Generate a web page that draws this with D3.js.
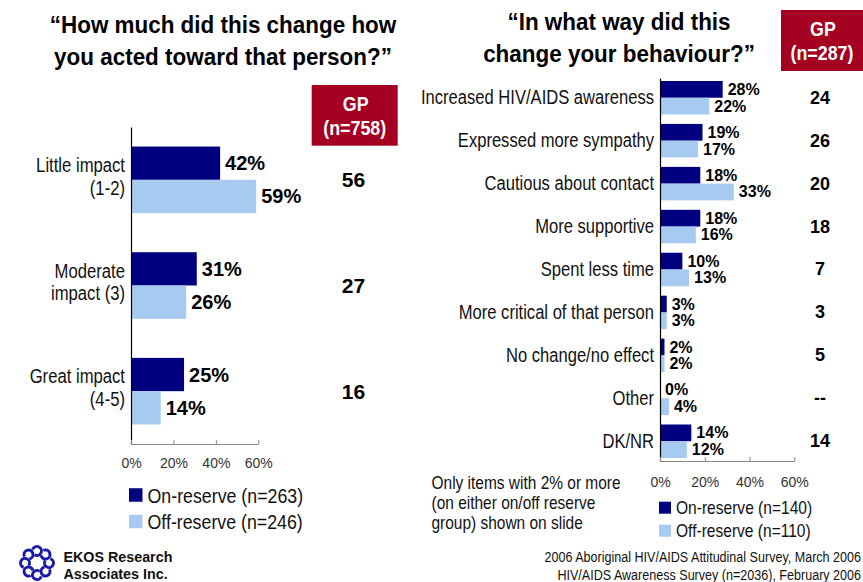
<!DOCTYPE html>
<html>
<head>
<meta charset="utf-8">
<script src="https://cdn.jsdelivr.net/npm/d3@7"></script>
<style>
  body { margin: 0; background: #fff; }
  svg { display: block; font-family: "Liberation Sans", Arial, sans-serif; }
</style>
</head>
<body>
<div id="container"></div>
<script>
// left panel data
const leftCategories = ["Little impact\n(1-2)", "Moderate\nimpact (3)", "Great impact\n(4-5)"];
const leftOnReserve = [42, 31, 25];
const leftOffReserve = [59, 26, 14];
const leftGP = ["56", "27", "16"];

// right panel data
const rightCategories = ["Increased HIV/AIDS awareness", "Expressed more sympathy", "Cautious about contact",
  "More supportive", "Spent less time", "More critical of that person", "No change/no effect", "Other", "DK/NR"];
const rightOnReserve = [28, 19, 18, 18, 10, 3, 2, 0, 14];
const rightOffReserve = [22, 17, 33, 16, 13, 3, 2, 4, 12];
const rightGP = ["24", "26", "20", "18", "7", "3", "5", "--", "14"];

const tickValues = [0, 20, 40, 60];
const series = ["on", "off"];
const COLORS = { on: "#000080", off: "#A6CAF0" };
const GP_RED = "#A50021";
const SQUEEZE = 0.855; // the slide text is horizontally condensed

const svg = d3.select("#container").append("svg")
  .attr("width", 863)
  .attr("height", 582);

svg.append("rect").attr("width", 863).attr("height", 582).attr("fill", "#fff");

// multi-line text, condensed horizontally around its anchor x
function squeezedText(parent, x, y0, lines, lh, size, anchor, sx) {
  const t = parent.append("g")
    .attr("transform", `translate(${x},0) scale(${sx},1)`)
    .append("text")
    .attr("text-anchor", anchor)
    .attr("font-size", size)
    .attr("fill", "#111");
  lines.forEach((ln, i) => {
    t.append("tspan").attr("x", 0).attr("y", y0 + i * lh)
      .attr("dominant-baseline", "central").text(ln);
  });
  return t;
}

function drawPanel(opts) {
  const g = svg.append("g");
  const rows = opts.categories.map((c, i) => ({ cat: c, on: opts.on[i], off: opts.off[i], gp: opts.gp[i] }));

  const x = d3.scaleLinear().domain([0, 60]).range(opts.xRange);
  const y = d3.scaleBand().domain(opts.categories).range(opts.yRange)
    .paddingInner(opts.padInner).paddingOuter(opts.padOuter);
  const ySub = d3.scaleBand().domain(series).range([0, y.bandwidth()]);

  // bars
  const groups = g.selectAll(".grp").data(rows).enter().append("g")
    .attr("transform", d => `translate(0,${y(d.cat)})`);

  groups.selectAll("rect").data(d => series.map(s => ({ s: s, v: d[s] })))
    .enter().append("rect")
    .attr("x", x(0))
    .attr("y", d => ySub(d.s))
    .attr("width", d => x(d.v) - x(0))
    .attr("height", ySub.bandwidth())
    .attr("fill", d => COLORS[d.s]);

  groups.selectAll("text.val").data(d => series.map(s => ({ s: s, v: d[s] })))
    .enter().append("text")
    .attr("class", "val")
    .attr("x", d => x(d.v) + 5)
    .attr("y", d => ySub(d.s) + ySub.bandwidth() / 2)
    .attr("dominant-baseline", "central")
    .attr("font-size", opts.valueSize)
    .attr("font-weight", "bold")
    .attr("fill", "#000")
    .text(d => d.v + "%");

  // category labels (multi-line)
  groups.each(function(d) {
    const lines = d.cat.split("\n");
    const cy = y.bandwidth() / 2 + opts.labelShift - (lines.length - 1) / 2 * opts.lineHeight;
    squeezedText(d3.select(this), x(0) - 6, cy, lines, opts.lineHeight, opts.labelSize, "end", SQUEEZE);
  });

  // GP column values
  groups.append("text")
    .attr("x", opts.gpX)
    .attr("y", y.bandwidth() / 2)
    .attr("text-anchor", "middle")
    .attr("dominant-baseline", "central")
    .attr("font-size", opts.gpSize)
    .attr("font-weight", "bold")
    .text(d => d.gp);

  // axes
  const yAxis = g.append("g")
    .attr("transform", `translate(${x(0)},0)`)
    .call(d3.axisLeft(y).tickSize(0).tickFormat(""));
  yAxis.select(".domain").attr("stroke", "#000").attr("stroke-width", 1.2);

  const xAxis = g.append("g")
    .attr("transform", `translate(0,${opts.yRange[1]})`)
    .call(d3.axisBottom(x).tickValues(tickValues).tickSizeInner(-4).tickSizeOuter(0)
      .tickPadding(opts.tickPad).tickFormat(d => d + "%"));
  xAxis.select(".domain").attr("stroke", "#888");
  xAxis.selectAll(".tick line").attr("stroke", "#888");
  xAxis.selectAll(".tick text")
    .attr("font-size", 14)
    .attr("font-family", "Liberation Sans, Arial, sans-serif")
    .attr("fill", "#333");

  // legend
  const leg = g.append("g");
  series.forEach((s, i) => {
    const ly = opts.legendY + i * opts.legendStep;
    leg.append("rect")
      .attr("x", opts.legendX).attr("y", ly - opts.legendBox / 2)
      .attr("width", opts.legendBox).attr("height", opts.legendBox)
      .attr("fill", COLORS[s]);
    squeezedText(leg, opts.legendX + opts.legendBox + 5, ly, [opts.legendLabels[i]], 0,
      opts.legendSize, "start", SQUEEZE);
  });

  // GP header box
  const b = opts.gpBox;
  g.append("rect").attr("x", b[0]).attr("y", b[1]).attr("width", b[2]).attr("height", b[3]).attr("fill", GP_RED);
  squeezedText(g, b[0] + b[2] / 2 + 1, b[1] + b[3] * 0.31, ["GP"], 0, 21, "middle", 0.85)
    .attr("font-weight", "bold").attr("fill", "#fff");
  squeezedText(g, b[0] + b[2] / 2, b[1] + b[3] * 0.7, [opts.gpN], 0, 21, "middle", 0.85)
    .attr("font-weight", "bold").attr("fill", "#fff");

  // title
  const t = g.append("g").attr("transform", `translate(${opts.titleX},0) scale(0.955,1)`)
    .append("text").attr("text-anchor", "middle")
    .attr("font-size", 23.5).attr("font-weight", "bold").attr("fill", "#000");
  opts.title.forEach((ln, i) => {
    t.append("tspan").attr("x", 0).attr("y", opts.titleY + i * 32).text(ln);
  });
}

drawPanel({
  categories: leftCategories, on: leftOnReserve, off: leftOffReserve, gp: leftGP,
  xRange: [131, 258.3], yRange: [127, 444], padInner: 0.37, padOuter: 0.185,
  valueSize: 20, labelSize: 19.5, labelShift: -3, lineHeight: 22.5,
  gpX: 353.5, gpSize: 21, tickPad: 14,
  legendX: 129, legendY: 495, legendStep: 26.5, legendBox: 13.5, legendSize: 20.8,
  legendLabels: ["On-reserve (n=263)", "Off-reserve (n=246)"],
  gpBox: [311.7, 85, 86, 60.7], gpN: "(n=758)",
  title: ["\u201cHow much did this change how", "you acted toward that person?\u201d"],
  titleX: 223, titleY: 33
});

drawPanel({
  categories: rightCategories, on: rightOnReserve, off: rightOffReserve, gp: rightGP,
  xRange: [660, 794.3], yRange: [78, 461], padInner: 0.22, padOuter: 0.07,
  valueSize: 16, labelSize: 19.4, labelShift: 0, lineHeight: 20,
  gpX: 820, gpSize: 18, tickPad: 16,
  legendX: 659, legendY: 507.7, legendStep: 23, legendBox: 12, legendSize: 18.2,
  legendLabels: ["On-reserve (n=140)", "Off-reserve (n=110)"],
  gpBox: [781, 10, 82, 61], gpN: "(n=287)",
  title: ["\u201cIn what way did this", "change your behaviour?\u201d"],
  titleX: 619, titleY: 30
});

// note under right chart
squeezedText(svg, 431.5, 482.7, ["Only items with 2% or more", "(on either on/off reserve", "group) shown on slide"],
  20.3, 18.1, "start", SQUEEZE);

// source
squeezedText(svg, 861, 556.7, ["2006 Aboriginal HIV/AIDS Attitudinal Survey, March 2006",
  "HIV/AIDS Awareness Survey (n=2036), February 2006"], 18.5, 14.7, "end", SQUEEZE);

// EKOS logo + name
const logo = svg.append("g").attr("transform", "translate(37,563)");
d3.range(8).forEach(i => {
  const a = i * Math.PI / 4;
  logo.append("path")
    .attr("transform", `rotate(${a * 180 / Math.PI}) translate(12,0)`)
    .attr("d", d3.arc()({ innerRadius: 3, outerRadius: 6, startAngle: 0.3, endAngle: 5.3 }))
    .attr("fill", "#1a1aa6");
});
const ekos = svg.append("text").attr("font-size", 14.3).attr("font-weight", "bold").attr("fill", "#111");
["EKOS Research", "Associates Inc."].forEach((ln, i) => {
  ekos.append("tspan").attr("x", 63.5).attr("y", 556.7 + i * 17.5)
    .attr("dominant-baseline", "central").text(ln);
});
</script>
</body>
</html>
